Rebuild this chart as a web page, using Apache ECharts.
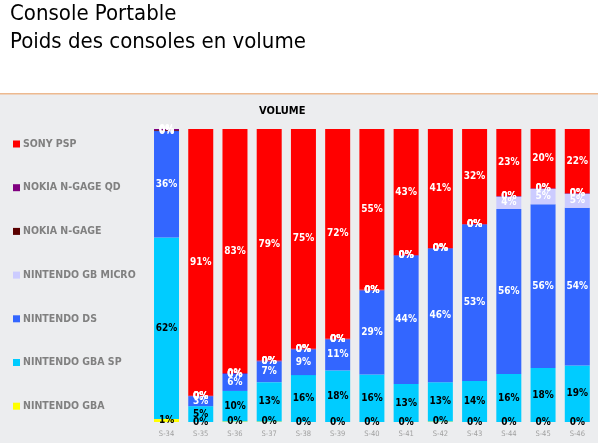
<!DOCTYPE html>
<html><head><meta charset="utf-8">
<script src="https://cdn.jsdelivr.net/npm/echarts@6/dist/echarts.min.js"></script>
<style>html,body{margin:0;padding:0;background:#fff}#c{width:598px;height:443px}</style>
</head><body><div id="c"></div>
<script>
var categories = ['S-34','S-35','S-36','S-37','S-38','S-39','S-40','S-41','S-42','S-43','S-44','S-45','S-46'];
var gba     = [1.0, 0, 0.2, 0.2, 0, 0, 0, 0, 0.2, 0, 0, 0, 0];
var gbaSp   = [62.0, 5.4, 10.4, 13.4, 16.0, 17.6, 16.2, 13.0, 13.4, 14.0, 16.4, 18.4, 19.3];
var ds      = [36.3, 3.4, 5.8, 7.1, 8.8, 10.6, 28.7, 43.8, 45.6, 53.4, 56.3, 55.9, 53.8];
var gbMicro = [0, 0, 0, 0, 0, 0, 0, 0, 0, 0, 4.2, 5.3, 4.8];
var ngage   = [0.3, 0, 0, 0, 0, 0, 0, 0, 0, 0, 0, 0, 0];
var ngageQd = [0.4, 0.2, 0.3, 0.3, 0.2, 0.2, 0.2, 0.2, 0.2, 0.2, 0.2, 0.2, 0.2];
var psp     = [0, 91.0, 83.3, 79.0, 75.0, 71.6, 54.9, 43.0, 40.6, 32.4, 22.9, 20.2, 21.9];
var seriesNames = ['NINTENDO GBA','NINTENDO GBA SP','NINTENDO DS','NINTENDO GB MICRO','NOKIA N-GAGE','NOKIA N-GAGE QD','SONY PSP'];
var legendOrder = ['SONY PSP','NOKIA N-GAGE QD','NOKIA N-GAGE','NINTENDO GB MICRO','NINTENDO DS','NINTENDO GBA SP','NINTENDO GBA'];

var colors = ['#FFFF00','#00CCFF','#3366FF','#CCCCFF','#5A0000','#800080','#FF0000'];
var labelColors = ['#000','#000','#fff','#fff','#fff','#fff','#fff'];
var datas = [gba, gbaSp, ds, gbMicro, ngage, ngageQd, psp];

var chart = echarts.init(document.getElementById('c'));
var series = datas.map(function(d, i){
  return {
    name: seriesNames[i], type: 'bar', stack: 'v', data: d, barWidth: 25,
    itemStyle: {color: colors[i]},
    label: {show: true, position: 'inside', color: labelColors[i],
      fontFamily: 'DejaVu Sans Condensed', fontWeight: 'bold', fontSize: 10,
      formatter: function(p){ return Math.round(p.value) + '%'; }}
  };
});
series[6].label.formatter = function(p){ return p.value === 0 ? '' : Math.round(p.value) + '%'; };

chart.setOption({
  animation: false,
  backgroundColor: '#fff',
  graphic: [
    {type: 'rect', z: -10, shape: {x: 0, y: 94, width: 598, height: 349}, style: {fill: '#ECEDEF'}},
    {type: 'rect', z: -9, shape: {x: 0, y: 93, width: 598, height: 1.5}, style: {fill: '#EDB98F'}}
  ],
  title: [
    {text: 'Console Portable\nPoids des consoles en volume', left: 10, top: 0, padding: 0,
      textStyle: {fontFamily: 'DejaVu Sans Condensed', fontWeight: 'normal', fontSize: 22, lineHeight: 28, color: '#000'}},
    {text: 'VOLUME', left: 259, top: 106, padding: 0,
      textStyle: {fontFamily: 'DejaVu Sans Condensed', fontWeight: 'bold', fontSize: 11, color: '#000'}}
  ],
  legend: {
    orient: 'vertical', left: 8, top: 133, itemWidth: 7, itemHeight: 7, itemGap: 31.7,
    icon: 'rect', data: legendOrder,
    textStyle: {fontFamily: 'DejaVu Sans Condensed', fontWeight: 'bold', fontSize: 10.5, color: '#808080', lineHeight: 12, padding: [0,0,0,-2]}
  },
  grid: {left: 149.4, right: 3.6, top: 129, bottom: 21, containLabel: false},
  xAxis: {type: 'category', data: categories,
    axisLine: {show: false}, axisTick: {show: false},
    axisLabel: {color: '#A0A0A0', fontSize: 7.5, fontFamily: 'DejaVu Sans Condensed', margin: 8}},
  yAxis: {type: 'value', min: 0, max: 100, show: false, splitLine: {show: false}},
  series: series
});
</script></body></html>
